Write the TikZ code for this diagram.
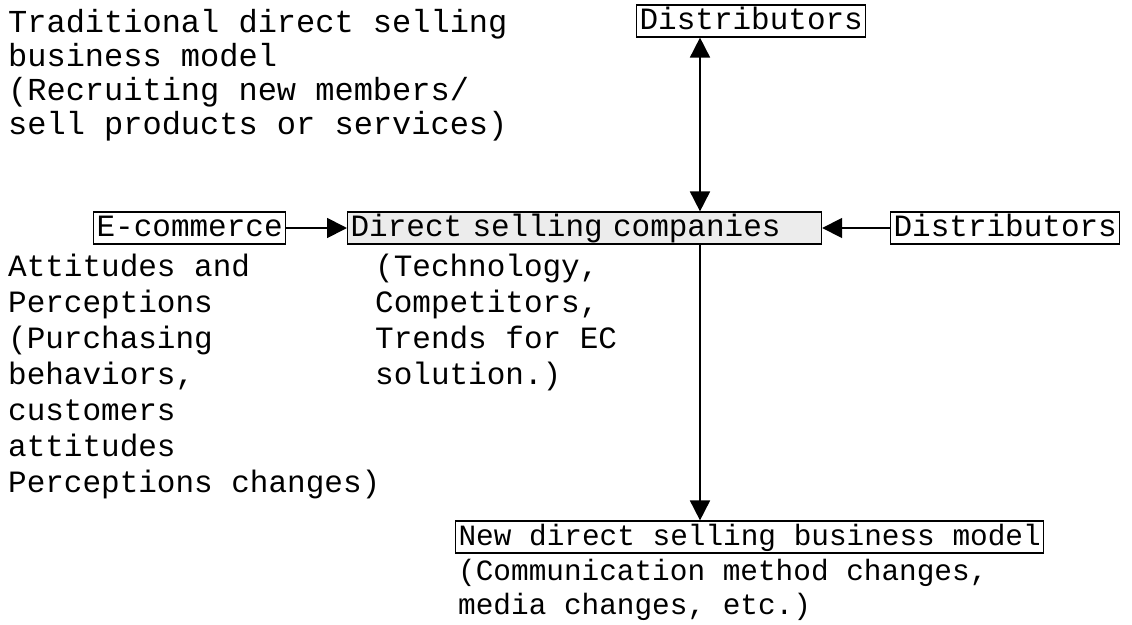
\documentclass[tikz,border=0pt]{standalone}
\usepackage{fontspec}
\setmonofont{Liberation Mono}
\usetikzlibrary{arrows.meta}

\tikzset{
    plaintext/.style={font=\ttfamily\fontsize{31}{36}\selectfont, align=left, inner sep=0pt, anchor=base west},
    framebox/.style={draw, line width=1.2pt, font=\ttfamily\fontsize{31}{36}\selectfont,
        inner xsep=3pt, inner ysep=0pt, text height=24pt, text depth=8pt, anchor=west},
    link/.style={line width=1.8pt, -{Triangle[length=20pt,width=20pt]}},
    biglink/.style={line width=1.8pt, {Triangle[length=20pt,width=20pt]}-{Triangle[length=20pt,width=20pt]}},
}

\begin{document}
\begin{tikzpicture}[x=1pt,y=-1pt]
    \useasboundingbox (0,0) rectangle (1132,624);

    % Old model (anchored at the baseline of its last line)
    \node[plaintext, font=\ttfamily\fontsize{32}{34}\selectfont] (oldmodel) at (8,134) {Traditional direct selling\\business model\\(Recruiting new members/\\sell products or services)};

    % Centre row
    \node[framebox] (ecom) at (93,228) {E-commerce};
    \node[framebox, fill=gray!15, text width=468pt, align=left] (dsc) at (347,228) {Direct selling companies};
    \node[framebox] (distright) at (890,228) {Distributors};
    \node[framebox] (disttop) at (636,21) {Distributors};

    % Notes
    \node[plaintext] (attitudes) at (8,492) {Attitudes and\\Perceptions\\(Purchasing\\behaviors,\\customers\\attitudes\\Perceptions changes)};
    \node[plaintext] (factors) at (375,384) {(Technology,\\Competitors,\\Trends for EC\\solution.)};

    % New model
    \node[framebox, font=\ttfamily\fontsize{29.4}{34}\selectfont] (newmodel) at (455,537) {New direct selling business model};
    \node[plaintext, font=\ttfamily\fontsize{29.4}{34}\selectfont] (changes) at (458,614) {(Communication method changes,\\media changes, etc.)};

    % Connectors
    \coordinate (axis) at (700,0);
    \draw[link] (ecom) -- (dsc);
    \draw[link] (distright) -- (dsc);
    \draw[biglink] (dsc.north -| axis) -- (disttop.south -| axis);
    \draw[link] (dsc.south -| axis) -- (newmodel.north -| axis);
\end{tikzpicture}
\end{document}
